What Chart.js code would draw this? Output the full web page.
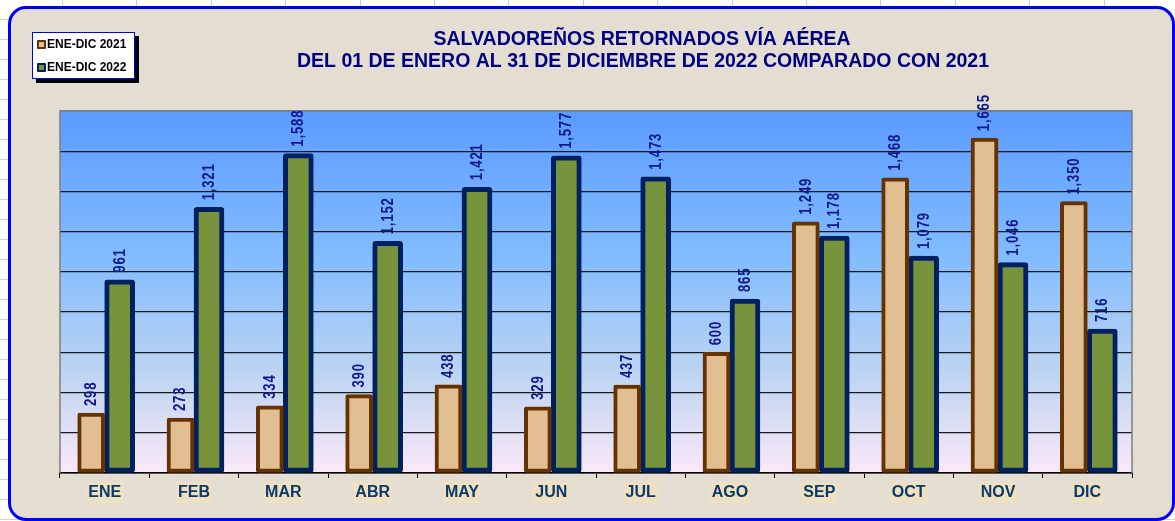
<!DOCTYPE html>
<html>
<head>
<meta charset="utf-8">
<script src="https://cdn.jsdelivr.net/npm/chart.js@4/dist/chart.umd.min.js"></script>
<style>
  html, body { margin: 0; padding: 0; }
  body {
    width: 1175px; height: 521px; overflow: hidden; position: relative;
    background-color: #fff;
    background-image:
      repeating-linear-gradient(90deg, transparent 0 62px, #d0d0d0 62px 63px, transparent 63px 74.4px),
      repeating-linear-gradient(180deg, transparent 0 19px, #d0d0d0 19px 20px);
  }
  #frame {
    position: absolute; left: 8px; top: 6px;
    width: 1161px; height: 509px;
    border: 3px solid #0000ff; border-radius: 18px;
    background: #e3ddd2; overflow: hidden;
  }
  #frame canvas { position: absolute; left: 0; top: 0; }
  #legend {
    position: absolute; left: 32px; top: 32px; width: 101px; height: 45px;
    border: 1px solid #0000ff; background: #fff; box-shadow: 4px 4px 0 #000;
    font: bold 12px "Liberation Sans", Arial, sans-serif; color: #000;
  }
  .item { position: absolute; left: 4px; height: 14px; line-height: 14px; white-space: nowrap; }
  .item span.m { display: inline-block; width: 5px; height: 5px; border: 2px solid; border-radius: 1px; vertical-align: -1px; margin-right: 1px; }
</style>
</head>
<body>
<div id="frame"><canvas id="chart" width="1161" height="509"></canvas></div>
<div id="legend">
  <div class="item" style="top:4px"><span class="m" style="border-color:#663300;background:#e2bf93"></span>ENE-DIC 2021</div>
  <div class="item" style="top:27px"><span class="m" style="border-color:#002060;background:#77933c"></span>ENE-DIC 2022</div>
</div>
<script>
const meses = ["ENE", "FEB", "MAR", "ABR", "MAY", "JUN", "JUL", "AGO", "SEP", "OCT", "NOV", "DIC"];
const datos2021 = [298, 273, 334, 390, 438, 329, 437, 600, 1249, 1468, 1665, 1350];
const datos2022 = [961, 1321, 1588, 1152, 1421, 1577, 1473, 865, 1178, 1079, 1046, 716];
const titulo = ["SALVADOREÑOS RETORNADOS VÍA AÉREA", "DEL 01 DE ENERO AL 31 DE DICIEMBRE DE 2022 COMPARADO CON 2021"];

const fmt = v => v.toLocaleString("en-US");

// fondo degradado del area de trazado
const fondoPlot = {
  id: "fondoPlot",
  beforeDraw(chart) {
    const { ctx, chartArea: a } = chart;
    const g = ctx.createLinearGradient(0, a.top, 0, a.bottom);
    g.addColorStop(0, "#5b9bff");
    g.addColorStop(0.4, "#82bcff");
    g.addColorStop(0.72, "#bcd4f2");
    g.addColorStop(1, "#fbe8f8");
    ctx.save();
    ctx.fillStyle = g;
    ctx.fillRect(a.left, a.top, a.right - a.left, a.bottom - a.top);
    ctx.restore();
  },
  beforeDatasetsDraw(chart) {
    const { ctx, chartArea: a } = chart;
    ctx.save();
    ctx.strokeStyle = "#7f7f7f";
    ctx.lineWidth = 1.5;
    ctx.beginPath();
    ctx.moveTo(a.left, a.bottom);
    ctx.lineTo(a.left, a.top);
    ctx.lineTo(a.right, a.top);
    ctx.lineTo(a.right, a.bottom);
    ctx.stroke();
    ctx.restore();
  }
};

// titulo en dos lineas
const tituloPlugin = {
  id: "tituloPlugin",
  afterDraw(chart) {
    const ctx = chart.ctx;
    ctx.save();
    ctx.fillStyle = "#000080";
    ctx.font = 'bold 19.5px "Liberation Sans", Arial, sans-serif';
    ctx.textAlign = "center";
    ctx.textBaseline = "middle";
    ctx.fillText(titulo[0], 631, 31);
    ctx.fillText(titulo[1], 632, 53);
    ctx.restore();
  }
};

// etiquetas de valor verticales
const etiquetas = {
  id: "etiquetas",
  afterDatasetsDraw(chart) {
    const ctx = chart.ctx;
    ctx.save();
    ctx.font = 'bold 16px "Liberation Sans", Arial, sans-serif';
    ctx.letterSpacing = "1px";
    ctx.fillStyle = "#10188c";
    ctx.textAlign = "left";
    ctx.textBaseline = "middle";
    chart.data.datasets.forEach((ds, i) => {
      chart.getDatasetMeta(i).data.forEach((bar, j) => {
        ctx.save();
        ctx.translate(bar.x + 0.5, bar.y - 7);
        ctx.rotate(-Math.PI / 2);
        ctx.scale(0.82, 1);
        ctx.fillText(fmt(ds.data[j]), 0, 0);
        ctx.restore();
      });
    });
    ctx.restore();
  }
};

new Chart(document.getElementById("chart"), {
  type: "bar",
  data: {
    labels: meses,
    datasets: [
      {
        label: "ENE-DIC 2021",
        data: datos2021,
        backgroundColor: "#e2bf93",
        borderColor: "#663300",
        borderWidth: 4,
        borderSkipped: false,
        borderRadius: 2,
        barThickness: 27,
      },
      {
        label: "ENE-DIC 2022",
        data: datos2022,
        backgroundColor: "#77933c",
        borderColor: "#002060",
        borderWidth: 5,
        borderSkipped: false,
        borderRadius: 3,
        barThickness: 30,
      },
    ],
  },
  options: {
    responsive: false,
    animation: false,
    layout: { padding: { left: 49, right: 40, top: 102, bottom: 0 } },
    scales: {
      x: {
        afterFit: s => { s.height = 45; },
        grid: { drawOnChartArea: false, drawTicks: true, tickLength: 5, color: "#000", lineWidth: 1 },
        border: { display: true, color: "#000", width: 1.5 },
        ticks: {
          color: "#0a3a6b",
          font: { family: '"Liberation Sans", Arial, sans-serif', size: 16, weight: "bold" },
          padding: 5,
          showLabelBackdrop: true,
          backdropColor: "#efe0c2",
          backdropPadding: { x: 2, y: 1 },
        },
      },
      y: {
        min: 0,
        max: 1800,
        afterFit: s => { s.width = 0; },
        ticks: { display: false, stepSize: 200 },
        grid: {
          drawTicks: false,
          color: c => (c.tick.value === 1800 ? "#7f7f7f" : "#1a1a1a"),
          lineWidth: 1.3,
        },
        border: { display: false },
      },
    },
    plugins: {
      legend: { display: false },
      title: { display: false },
      tooltip: { enabled: false },
    },
  },
  plugins: [fondoPlot, tituloPlugin, etiquetas],
});
</script>
</body>
</html>
